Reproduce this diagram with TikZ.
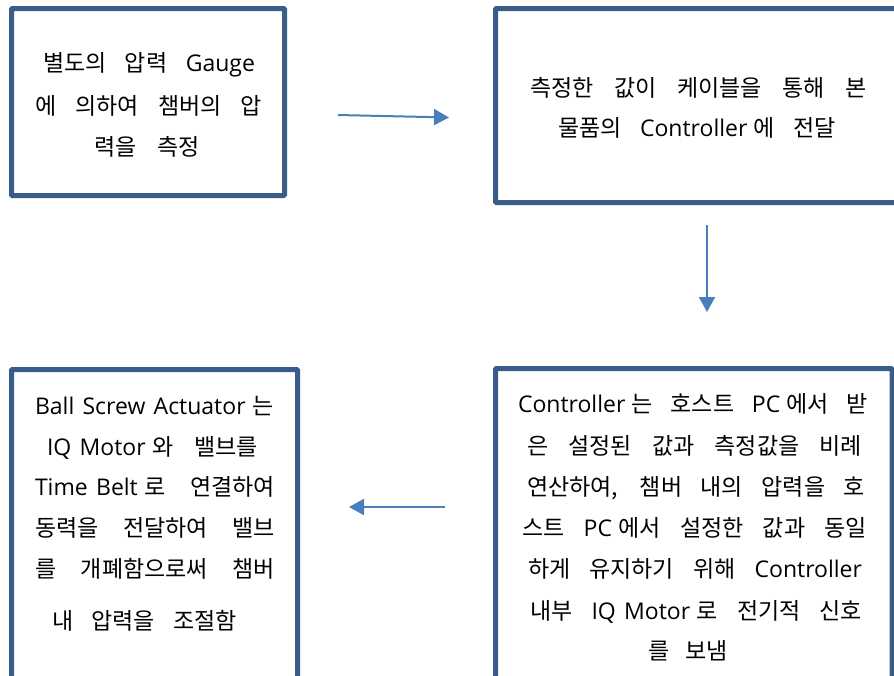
\documentclass[tikz,border=0pt]{standalone}
\usepackage{fontspec}
\setmainfont{Noto Sans CJK KR}
\newfontfamily\latfont{Open Sans}
\usetikzlibrary{arrows.meta}
\definecolor{boxblue}{RGB}{56,93,138}
\definecolor{arrblue}{RGB}{74,126,187}
\newcommand\E[1]{{\latfont\spaceskip=0.36em minus 0.06em\relax #1}}
\newcommand\fs{\hspace{0.28em}}
\newcommand\jl[2]{\hbox to #1{\spaceskip=0.25em plus 1fil minus 0.1em\relax #2}}
\tikzset{
  box/.style={draw=boxblue, line width=5pt, rounded corners=1pt, inner sep=0pt, fill=none},
  txt/.style={anchor=base, inner sep=0pt, font=\fontsize{23}{41}\selectfont},
  flow/.style={draw=arrblue, line width=2pt, -{Triangle[length=15pt,width=16pt]}}
}
\begin{document}
\begin{tikzpicture}[x=1pt,y=-1pt]
\useasboundingbox (0,0) rectangle (894,675);
\clip (0,0) rectangle (894,675);
% boxes
\node[box, minimum width=273pt, minimum height=187pt] (box1) at (148,102) {};
\node[box, minimum width=404.5pt, minimum height=194pt] (box2) at (697.75,105.5) {};
\node[box, minimum width=286pt, minimum height=330pt] (box3) at (154.5,534.5) {};
\node[box, minimum width=396.5pt, minimum height=331.5pt] (box4) at (693.75,534.25) {};
% box 1 text
\node[txt] (t11) at (149,71) {\jl{212pt}{별도의 압력 \E{Gauge}}};
\node[txt] (t12) at (148.5,114) {\jl{227pt}{에 의하여 챔버의 압}};
\node[txt] (t13) at (147,155) {\jl{105pt}{력을 측정}};
% box 2 text
\node[txt] (t21) at (698.5,96) {\jl{337pt}{측정한 값이 케이블을 통해 본}};
\node[txt] (t22) at (697,136) {\jl{277pt}{물품의 \E{Controller}\fs 에 전달}};
% box 3 text
\node[txt] (t31) at (155,414) {\jl{240pt}{\E{Ball Screw Actuator}\fs 는}};
\node[txt] (t32) at (152.5,455) {\jl{211pt}{\E{IQ Motor}\fs 와 밸브를}};
\node[txt] (t33) at (155,495) {\jl{240pt}{\E{Time Belt}\fs 로 연결하여}};
\node[txt] (t34) at (155,536) {\jl{240pt}{동력을 전달하여 밸브}};
\node[txt] (t35) at (155,577) {\jl{240pt}{를 개폐함으로써 챔버}};
\node[txt] (t36) at (144.5,629) {\jl{185pt}{내 압력을 조절함}};
% box 4 text
\node[txt] (t41) at (693,412) {\jl{350pt}{\E{Controller}\fs 는 호스트 \E{PC}\fs 에서 받}};
\node[txt] (t42) at (694.5,454) {\jl{335pt}{은 설정된 값과 측정값을 비례}};
\node[txt] (t43) at (696,495) {\jl{338pt}{연산하여, 챔버 내의 압력을 호}};
\node[txt] (t44) at (694.5,536) {\jl{345pt}{스트 \E{PC}\fs 에서 설정한 값과 동일}};
\node[txt] (t45) at (695,577) {\jl{334pt}{하게 유지하기 위해 \E{Controller}}};
\node[txt] (t46) at (696,619) {\jl{332pt}{내부 \E{IQ Motor}\fs 로 전기적 신호}};
\node[txt] (t47) at (688,659) {\jl{80pt}{를 보냄}};
% arrows
\coordinate (a1s) at (338,115);
\coordinate (a1e) at (449,117.5);
\coordinate (a2s) at (707,225);
\coordinate (a2e) at (707,312);
\coordinate (a3s) at (445,507);
\coordinate (a3e) at (349,507);
\draw[flow] (a1s) -- (a1e);
\draw[flow] (a2s) -- (a2e);
\draw[flow] (a3s) -- (a3e);
\end{tikzpicture}
\end{document}
